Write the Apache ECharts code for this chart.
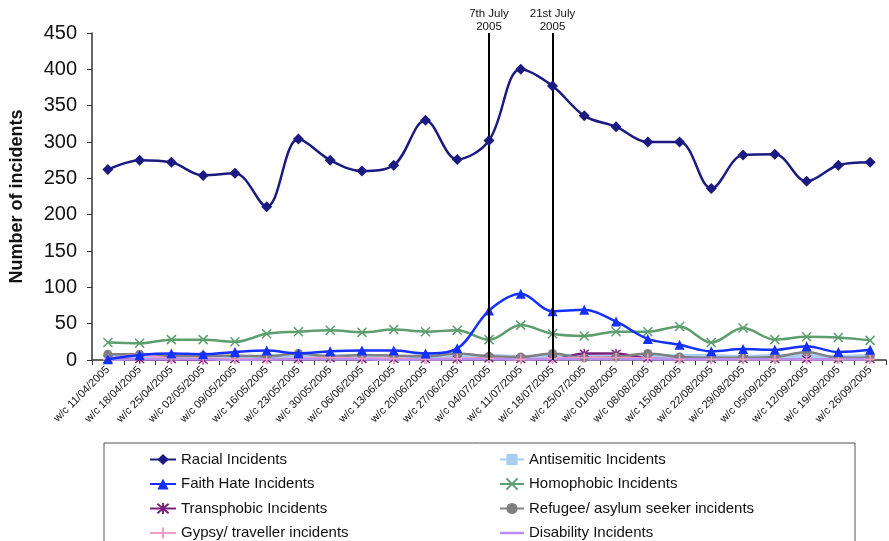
<!DOCTYPE html>
<html>
<head>
<meta charset="utf-8">
<script src="https://cdn.jsdelivr.net/npm/echarts@6/dist/echarts.min.js"></script>
<style>
  html, body { margin: 0; padding: 0; background: #fff; }
  #chart { width: 889px; height: 541px; }
</style>
</head>
<body>
<div id="chart"></div>
<script>
// weeks (w/c = week commencing)
const weeks = ['w/c 11/04/2005', 'w/c 18/04/2005', 'w/c 25/04/2005', 'w/c 02/05/2005', 'w/c 09/05/2005',
  'w/c 16/05/2005', 'w/c 23/05/2005', 'w/c 30/05/2005', 'w/c 06/06/2005', 'w/c 13/06/2005',
  'w/c 20/06/2005', 'w/c 27/06/2005', 'w/c 04/07/2005', 'w/c 11/07/2005', 'w/c 18/07/2005',
  'w/c 25/07/2005', 'w/c 01/08/2005', 'w/c 08/08/2005', 'w/c 15/08/2005', 'w/c 22/08/2005',
  'w/c 29/08/2005', 'w/c 05/09/2005', 'w/c 12/09/2005', 'w/c 19/09/2005', 'w/c 26/09/2005'];

const racial      = [262, 275, 272, 254, 257, 211, 304, 275, 260, 268, 330, 276, 302, 400, 377, 336, 321, 300, 300, 236, 282, 283, 246, 268, 272];
const antisemitic = [5, 5, 4, 5, 4, 5, 6, 5, 5, 4, 5, 4, 5, 4, 5, 5, 4, 4, 5, 5, 4, 5, 5, 4, 5];
const faithHate   = [1, 7, 9, 8, 11, 13, 9, 12, 13, 13, 9, 16, 68, 91, 67, 69, 53, 29, 21, 12, 15, 14, 19, 11, 14];
const homophobic  = [24, 23, 28, 28, 25, 36, 39, 41, 38, 42, 39, 41, 28, 48, 36, 33, 39, 39, 46, 24, 44, 28, 32, 31, 27];
const transphobic = [1, 1, 1, 0, 1, 1, 1, 2, 1, 1, 1, 1, 2, 1, 1, 9, 9, 2, 1, 1, 1, 1, 1, 1, 1];
const refugee     = [8, 8, 5, 6, 6, 5, 9, 5, 7, 6, 5, 9, 5, 4, 9, 3, 4, 9, 4, 3, 3, 4, 11, 3, 3];
const gypsy       = [1, 7, 2, 2, 1, 1, 2, 3, 2, 2, 1, 2, 2, 1, 2, 3, 3, 2, 1, 1, 1, 1, 1, 1, 1];
const disability  = [0, 1, 1, 1, 0, 1, 1, 1, 1, 0, 1, 1, 1, 1, 1, 1, 1, 1, 1, 1, 1, 1, 1, 1, 1];

const yTicks = [0, 450, 50]; // min, max, step
const events = [
  { week: 'w/c 04/07/2005', label: '7th July\n2005' },
  { week: 'w/c 18/07/2005', label: '21st July\n2005' }
];

const FONT = '"Liberation Sans", Arial, sans-serif';

// stroke-only marker shapes
const crossX = 'path://M0,0L10,10M10,0L0,10';
const plus = 'path://M5,0L5,10M0,5L10,5';
const star = 'path://M0,0L10,10M10,0L0,10M5,-1L5,11';

function mkSeries(name, data, color, opts) {
  opts = opts || {};
  const s = {
    name: name,
    type: 'line',
    data: data,
    smooth: 0.35,
    symbol: opts.symbol || 'none',
    symbolSize: opts.size || 8,
    lineStyle: { color: color, width: opts.width || 2.5 },
    itemStyle: { color: color },
    emphasis: { disabled: true },
    z: opts.z || 2
  };
  if (opts.hollow) {
    s.itemStyle = { color: 'rgba(0,0,0,0)', borderColor: color, borderWidth: 1.5 };
  }
  return s;
}

const series = [
  mkSeries('Racial Incidents', racial, '#1a1a80', { symbol: 'diamond', size: 11, z: 5 }),
  mkSeries('Antisemitic Incidents', antisemitic, '#a8cdf2', { symbol: 'rect', size: 7, width: 4.5, z: 1 }),
  mkSeries('Faith Hate Incidents', faithHate, '#1430ff', { symbol: 'triangle', size: 10, z: 4 }),
  mkSeries('Homophobic Incidents', homophobic, '#5c9e6e', { symbol: crossX, size: 9, hollow: true, z: 3 }),
  mkSeries('Transphobic Incidents', transphobic, '#7a1f7a', { symbol: star, size: 9, hollow: true }),
  mkSeries('Refugee/ asylum seeker incidents', refugee, '#808080', { symbol: 'circle', size: 9 }),
  mkSeries('Gypsy/ traveller incidents', gypsy, '#f29bc9', { symbol: plus, size: 10, hollow: true }),
  mkSeries('Disability Incidents', disability, '#b88ff0', { symbol: 'none' })
];

series[0].markLine = {
  silent: true,
  symbol: 'none',
  animation: false,
  lineStyle: { color: '#000', width: 2, type: 'solid' },
  label: {
    show: true,
    position: 'end',
    distance: 0,
    color: '#111',
    fontFamily: FONT,
    fontSize: 11.5,
    lineHeight: 13,
    formatter: p => p.data.text
  },
  data: events.map(e => ({ xAxis: e.week, text: e.label }))
};

const legendText = { fontFamily: FONT, fontSize: 15, color: '#111' };

const option = {
  animation: false,
  backgroundColor: '#fff',
  grid: { left: 92, right: 3, top: 33, bottom: 181, containLabel: false, outerBoundsMode: 'none' },
  graphic: [{
    type: 'rect',
    shape: { x: 104, y: 443, width: 751, height: 110 },
    style: { fill: '#fff', stroke: '#555', lineWidth: 1 },
    z: 0
  }],
  legend: [{
    orient: 'vertical',
    left: 144,
    top: 447,
    height: 120,
    itemWidth: 26,
    itemHeight: 14,
    itemGap: 9.5,
    textStyle: legendText,
    data: ['Racial Incidents', 'Faith Hate Incidents', 'Transphobic Incidents', 'Gypsy/ traveller incidents']
  }, {
    orient: 'vertical',
    left: 494,
    top: 447,
    height: 120,
    itemWidth: 24,
    itemHeight: 14,
    itemGap: 9.5,
    textStyle: legendText,
    data: ['Antisemitic Incidents', 'Homophobic Incidents', 'Refugee/ asylum seeker incidents',
      { name: 'Disability Incidents', icon: 'path://M0,6L24,6L24,8.5L0,8.5Z' }]
  }],
  xAxis: {
    type: 'category',
    data: weeks,
    boundaryGap: true,
    axisLine: { lineStyle: { color: '#333', width: 1.5 } },
    axisTick: { show: true, length: 5, inside: false, alignWithLabel: false, lineStyle: { color: '#333' } },
    axisLabel: {
      interval: 0,
      rotate: 45,
      fontFamily: FONT,
      fontSize: 11,
      color: '#111',
      margin: 8
    },
    splitLine: { show: false }
  },
  yAxis: {
    type: 'value',
    min: yTicks[0],
    max: yTicks[1],
    interval: yTicks[2],
    name: 'Number of incidents',
    nameLocation: 'middle',
    nameGap: 66,
    nameTextStyle: { fontFamily: FONT, fontSize: 18, fontWeight: 'bold', color: '#111' },
    axisLine: { show: true, lineStyle: { color: '#333', width: 1.5 } },
    axisTick: { show: true, length: 5, lineStyle: { color: '#333' } },
    axisLabel: { fontFamily: FONT, fontSize: 20, color: '#111', margin: 15 },
    splitLine: { show: false }
  },
  series: series
};

const chart = echarts.init(document.getElementById('chart'), null, { renderer: 'canvas' });
chart.setOption(option);
</script>
</body>
</html>
